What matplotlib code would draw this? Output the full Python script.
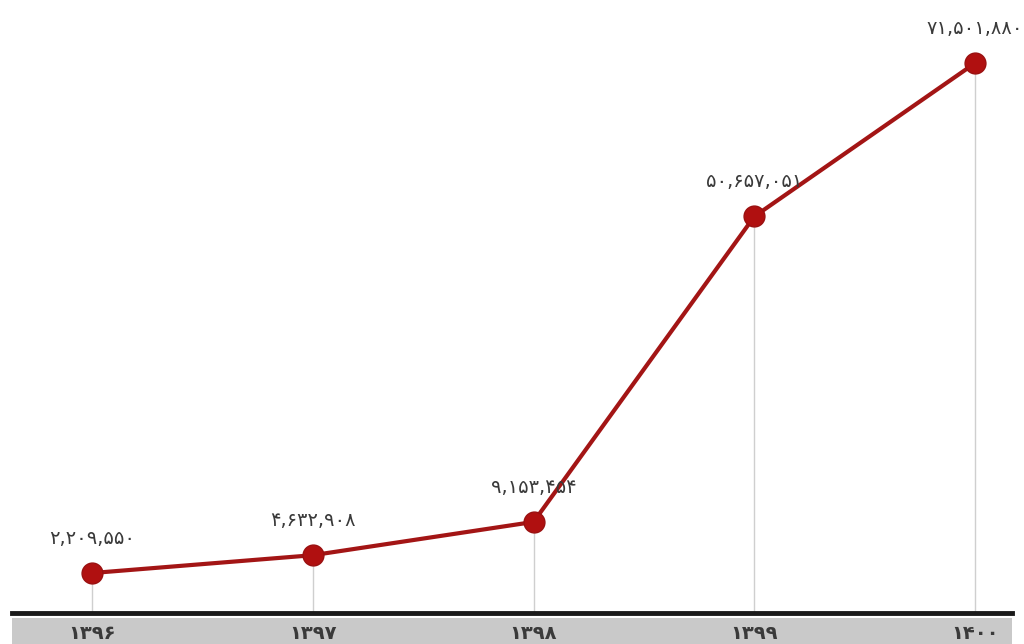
import matplotlib
matplotlib.use("Agg")
import matplotlib.pyplot as plt

years = [1396, 1397, 1398, 1399, 1400]
values = [2209550, 4632908, 9153454, 50657051, 71501880]

FA = str.maketrans("0123456789", "۰۱۲۳۴۵۶۷۸۹")
def fa(s):
    return str(s).translate(FA)

plt.rcParams['font.family'] = ['DejaVu Sans']

fig = plt.figure(figsize=(10.24, 6.44), dpi=100)
ax = fig.add_axes([12/1024, 31/644, 1000/1024, 613/644])
ax.set_zorder(2)
ax.patch.set_alpha(0)

# grey band at bottom
band = fig.add_axes([12/1024, 0, 1000/1024, 26/644])
band.set_zorder(1)
band.set_facecolor('#c9c9c9')
band.set_xticks([]); band.set_yticks([])
for s in band.spines.values():
    s.set_visible(False)

line_color = '#a31515'
for x, v in zip(years, values):
    ax.plot([x, x], [-3.22e6, v], color='#cfcfcf', lw=1, zorder=1)

ax.plot(years, values, color=line_color, lw=3, marker='o', markersize=15,
        markerfacecolor='#b01010', markeredgecolor='#9a1010', zorder=3)

for x, v in zip(years, values):
    ax.annotate(fa(f"{v:,}"), (x, v), xytext=(0, 18), textcoords='offset points',
                ha='center', va='bottom', fontsize=14, color='#3a3a3a')

ax.set_xlim(1395.638, 1400.167)
ax.set_ylim(-3.22e6, 80.07e6)
for s in ['top', 'right', 'left']:
    ax.spines[s].set_visible(False)
ax.spines['bottom'].set_linewidth(3.5)
ax.spines['bottom'].set_color('#1a1a1a')
ax.set_yticks([])
ax.set_xticks(years)
ax.set_xticklabels([fa(y) for y in years], fontsize=14, color='#3a3a3a', fontweight='bold')
ax.tick_params(axis='x', length=0, pad=8)

fig.savefig('out.png', dpi=100)
